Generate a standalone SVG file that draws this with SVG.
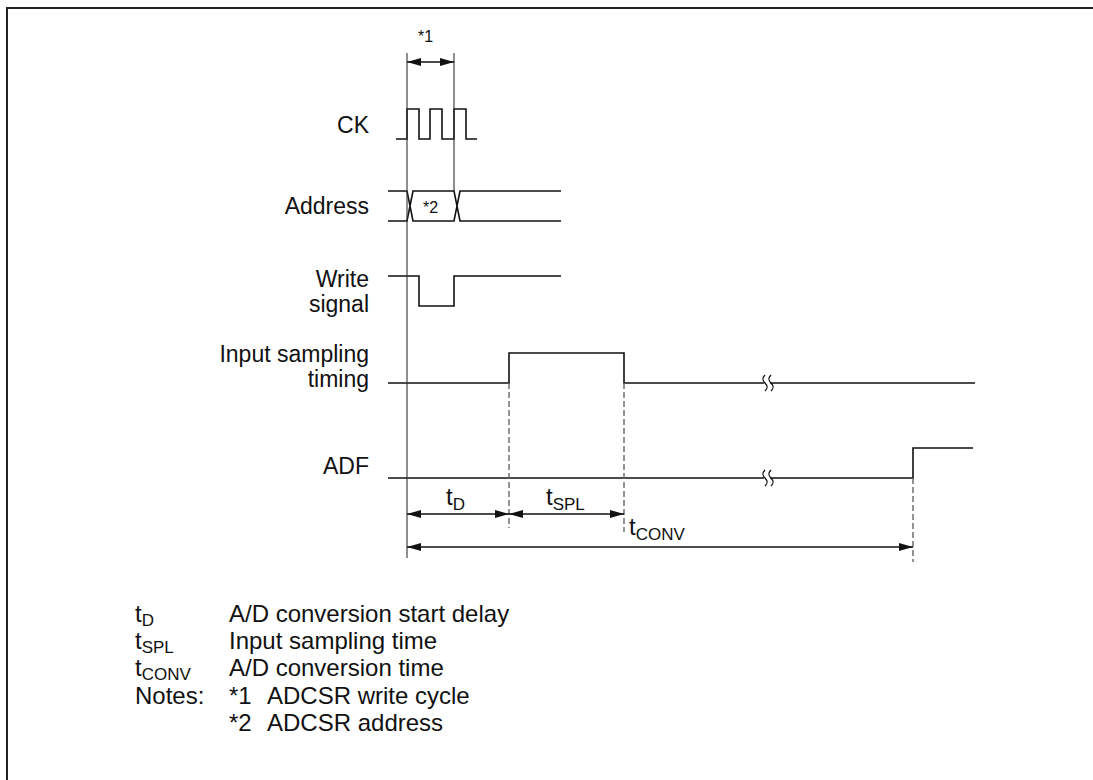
<svg xmlns="http://www.w3.org/2000/svg" width="1093" height="780" viewBox="0 0 1093 780">
<style>
text{font-family:"Liberation Sans",Arial,sans-serif;fill:#111;}
.lbl{font-size:23px;text-anchor:end;}
.leg{font-size:24px;}
.sm{font-size:16px;}
.sub{font-size:17px;}
.sig{fill:none;stroke:#111;stroke-width:1.6;}
.guide{fill:none;stroke:#333;stroke-width:1.1;}
.dash{fill:none;stroke:#666;stroke-width:1.4;stroke-dasharray:6 3;}
.arr{fill:none;stroke:#111;stroke-width:1.4;}
.brk{fill:none;stroke:#111;stroke-width:1.3;}
</style>
<defs>
<marker id="ah" viewBox="0 0 14 8" refX="14" refY="4" markerWidth="14" markerHeight="8" markerUnits="userSpaceOnUse" orient="auto-start-reverse">
<path d="M0,0 L14,4 L0,8 Z" fill="#111"/>
</marker>
</defs>
<rect width="1093" height="780" fill="#fff"/>
<path d="M7,780 V8 H1093" fill="none" stroke="#222" stroke-width="2"/>

<g id="labels">
<text class="lbl" x="369" y="133">CK</text>
<text class="lbl" x="369" y="214">Address</text>
<text class="lbl" x="369" y="287">Write</text>
<text class="lbl" x="369" y="312">signal</text>
<text class="lbl" x="369" y="362">Input sampling</text>
<text class="lbl" x="369" y="387">timing</text>
<text class="lbl" x="369" y="474">ADF</text>
</g>

<g id="ck">
<path class="sig" d="M396,139 H407 V109 H419 V139 H430 V109 H442 V139 H454 V109 H466 V139 H477"/>
</g>
<g id="address">
<path class="sig" d="M388,191 H407 L413,221 H454 L460,191 H561 M388,221 H407 L413,191 H454 L460,221 H561"/>
<text class="sm" x="423" y="213">*2</text>
</g>
<g id="write-signal">
<path class="sig" d="M388,276 H419 V306 H454 V276 H561"/>
</g>
<g id="input-sampling">
<path class="sig" d="M388,383 H509 V353 H624 V383 H975"/>
<rect x="764" y="374" width="6" height="18" fill="#fff"/>
<path class="brk" d="M765,375 c-3,3 -3,5 0,8 c3,3 3,5 0,8 M771,375 c-3,3 -3,5 0,8 c3,3 3,5 0,8"/>
</g>
<g id="adf">
<path class="sig" d="M388,478 H913 V448 H973"/>
<rect x="764" y="469" width="6" height="18" fill="#fff"/>
<path class="brk" d="M765,470 c-3,3 -3,5 0,8 c3,3 3,5 0,8 M771,470 c-3,3 -3,5 0,8 c3,3 3,5 0,8"/>
</g>

<g id="connectors">
<path class="guide" d="M407,53 V558 M454,53 V191"/>
<path class="dash" d="M509,383 V528 M624,383 V532 M913,478 V562"/>
<line class="arr" x1="407" y1="62" x2="454" y2="62" marker-start="url(#ah)" marker-end="url(#ah)"/>
<line class="arr" x1="407" y1="514" x2="509" y2="514" marker-start="url(#ah)" marker-end="url(#ah)"/>
<line class="arr" x1="509" y1="514" x2="624" y2="514" marker-start="url(#ah)" marker-end="url(#ah)"/>
<line class="arr" x1="407" y1="547" x2="913" y2="547" marker-start="url(#ah)" marker-end="url(#ah)"/>
</g>

<g id="dim-labels">
<text class="sm" x="418" y="42">*1</text>
<text class="leg" x="446" y="505">t<tspan class="sub" dy="5">D</tspan></text>
<text class="leg" x="546" y="505">t<tspan class="sub" dy="5">SPL</tspan></text>
<text class="leg" x="629" y="535">t<tspan class="sub" dy="5">CONV</tspan></text>
</g>

<g id="legend">
<text class="leg" x="135" y="622">t<tspan class="sub" dy="4">D</tspan></text>
<text class="leg" x="229" y="622">A/D conversion start delay</text>
<text class="leg" x="135" y="649">t<tspan class="sub" dy="4">SPL</tspan></text>
<text class="leg" x="229" y="649">Input sampling time</text>
<text class="leg" x="135" y="676">t<tspan class="sub" dy="4">CONV</tspan></text>
<text class="leg" x="229" y="676">A/D conversion time</text>
<text class="leg" x="135" y="704">Notes:</text>
<text class="leg" x="229" y="704">*1</text>
<text class="leg" x="267" y="704">ADCSR write cycle</text>
<text class="leg" x="229" y="731">*2</text>
<text class="leg" x="267" y="731">ADCSR address</text>
</g>
</svg>
